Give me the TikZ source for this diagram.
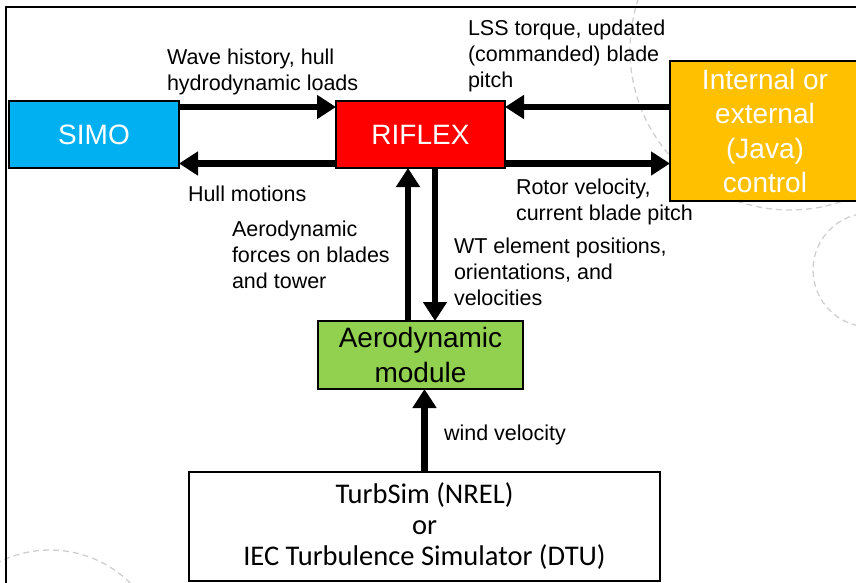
\documentclass[tikz,border=0pt]{standalone}
\usepackage{fontspec}
\setmainfont{Liberation Sans}
\newfontfamily\calibfont{Carlito}
\usetikzlibrary{arrows.meta}
\definecolor{simoblue}{HTML}{00B0F0}
\definecolor{riflexred}{HTML}{FF0000}
\definecolor{ctrlorange}{HTML}{FFC000}
\definecolor{aerogreen}{HTML}{92D050}
\definecolor{decogray}{HTML}{CFCFCF}
\begin{document}
\begin{tikzpicture}[x=1pt,y=-1pt,
  deco/.style={draw=decogray,line width=1.3pt,dash pattern=on 6pt off 4pt},
  box/.style={draw=black,line width=2pt,inner sep=0pt,outer sep=0pt,align=center,
    font=\fontsize{28}{34.5}\selectfont},
  lbl/.style={inner sep=0pt,outer sep=0pt,anchor=north west,align=left,
    font=\fontsize{21.5}{25.8}\selectfont},
  arr/.style={line width=6.5pt,-{Triangle[length=19pt,width=23pt]}}]
\useasboundingbox (0,0) rectangle (856,582);
% background decoration
\draw[deco] (790,50) circle[radius=160pt];
\draw[deco] (870,270) circle[radius=57pt];
\draw[deco] (50,664) circle[radius=114pt];
% frame
\draw[line width=2pt] (856,7) -- (6,7) -- (6,583);
% boxes
\node[box,fill=simoblue,text=white,minimum width=170pt,minimum height=67pt] (simo) at (94,134.5) {SIMO};
\node[box,fill=riflexred,text=white,minimum width=169pt,minimum height=67pt] (riflex) at (420.5,134.5) {RIFLEX};
\node[box,fill=ctrlorange,text=white,minimum width=190pt,minimum height=140pt] (ctrl) at (765,131) {Internal or\\external\\(Java)\\control};
\node[box,fill=aerogreen,text=black,minimum width=205pt,minimum height=68pt] (aero) at (420.5,355) {Aerodynamic\\module};
\node[box,fill=white,text=black,minimum width=471pt,minimum height=109pt,
  font=\calibfont\fontsize{28.5}{31}\selectfont] (turb) at (424.5,526.5) {TurbSim (NREL)\\or\\IEC Turbulence Simulator (DTU)};
% connectors
\coordinate (st) at ([yshift=-6pt]simo.north east);
\coordinate (sb) at ([yshift=4.5pt]simo.south east);
\coordinate (rt) at ([yshift=-6pt]riflex.north east);
\coordinate (rb) at ([yshift=4.5pt]riflex.south east);
\draw[arr] (st) -- (st -| riflex.west);
\draw[arr] (sb -| riflex.west) -- (sb);
\draw[arr] (rt -| ctrl.west) -- (rt);
\draw[arr] (rb) -- (rb -| ctrl.west);
\coordinate (au) at ([xshift=-12.5pt]aero.north);
\coordinate (ad) at ([xshift=14.5pt]aero.north);
\draw[arr] (au) -- (au |- riflex.south);
\draw[arr] (ad |- riflex.south) -- (ad);
\draw[arr] (turb.north) -- (turb.north |- aero.south);
% labels
\node[lbl] (lwave) at (167,49) {Wave history, hull\\hydrodynamic loads};
\node[lbl] (llss) at (468,20) {LSS torque, updated\\(commanded) blade\\pitch};
\node[lbl] (lhull) at (188,186) {Hull motions};
\node[lbl] (lrotor) at (516,179) {Rotor velocity,\\current blade pitch};
\node[lbl] (laero) at (232,221) {Aerodynamic\\forces on blades\\and tower};
\node[lbl] (lwt) at (454,238) {WT element positions,\\orientations, and\\velocities};
\node[lbl] (lwind) at (444,425) {wind velocity};
\end{tikzpicture}
\end{document}
